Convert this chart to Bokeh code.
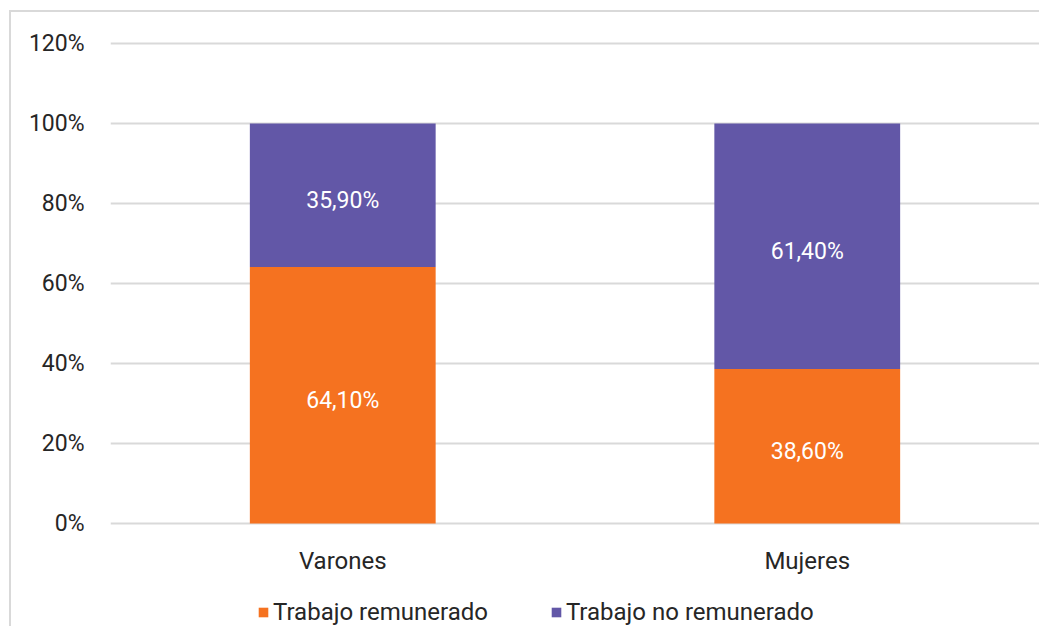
from bokeh.plotting import figure
from bokeh.models import ColumnDataSource, Range1d, FixedTicker, PrintfTickFormatter, Legend, LegendItem
from bokeh.core.properties import value
from bokeh.embed import file_html
from bokeh.resources import INLINE

categories = ["Varones", "Mujeres"]
remunerado = [64.1, 38.6]
no_remunerado = [35.9, 61.4]
series_names = ["Trabajo remunerado", "Trabajo no remunerado"]
colors = ["#F57220", "#6257A7"]
y_ticks = [0, 20, 40, 60, 80, 100, 120]

FONT = "Roboto"
TXT = "#262626"
GRID = "#D9D9D9"

source = ColumnDataSource(dict(cat=categories, rem=remunerado, norem=no_remunerado))

p = figure(x_range=categories, y_range=Range1d(-25.75, 120.5), width=1039, height=626,
           output_backend="svg", toolbar_location=None,
           min_border_left=110, min_border_right=0, min_border_top=41, min_border_bottom=0)
line_bg = f"linear-gradient({GRID}, {GRID})"
p.styles = {
    "background": (f"{line_bg} 9px 10px / calc(100% - 9px) 2px no-repeat, "
                   f"{line_bg} 9px 10px / 2px calc(100% - 10px) no-repeat, white")
}
p.outline_line_color = None
p.background_fill_color = None
p.border_fill_color = None

renderers = p.vbar_stack(["rem", "norem"], x="cat", width=0.4, color=colors,
                         line_color=None, source=source)

# data labels
lab_x, lab_y, lab_t = [], [], []
for c, r, n in zip(categories, remunerado, no_remunerado):
    lab_x += [c, c]
    lab_y += [r / 2, r + n / 2]
    lab_t += [f"{r:.2f}".replace(".", ",") + "%", f"{n:.2f}".replace(".", ",") + "%"]
p.text(x=lab_x, y=lab_y, text=lab_t, text_color="white", text_align="center",
       text_baseline="middle", text_font=value(FONT), text_font_size="23px", y_offset=5)

# category labels (below the bars)
p.text(x=categories, y=[-9.25] * len(categories), text=categories, text_color=TXT,
       text_align="center", text_baseline="middle", text_font=value(FONT),
       text_font_size="24px")

# y axis
p.yaxis.ticker = FixedTicker(ticks=y_ticks)
p.yaxis.formatter = PrintfTickFormatter(format="%d%%")
p.yaxis.axis_line_color = None
p.yaxis.major_tick_line_color = None
p.yaxis.minor_tick_line_color = None
p.yaxis.major_label_text_font = FONT
p.yaxis.major_label_text_font_size = "23px"
p.yaxis.major_label_text_color = TXT
p.yaxis.major_label_standoff = 20

p.xaxis.visible = False
p.xgrid.grid_line_color = None
p.ygrid.grid_line_color = GRID
p.ygrid.grid_line_width = 2

legend = Legend(items=[LegendItem(label=series_names[i], renderers=[renderers[i]]) for i in range(2)],
                orientation="horizontal", location=(147, 0),
                label_text_font=FONT, label_text_font_size="24px", label_text_color=TXT,
                glyph_width=12, glyph_height=12, label_standoff=4, spacing=62,
                padding=0, margin=0, border_line_color=None, background_fill_alpha=0)
p.add_layout(legend)

open("out.html", "w").write(file_html(p, INLINE))
